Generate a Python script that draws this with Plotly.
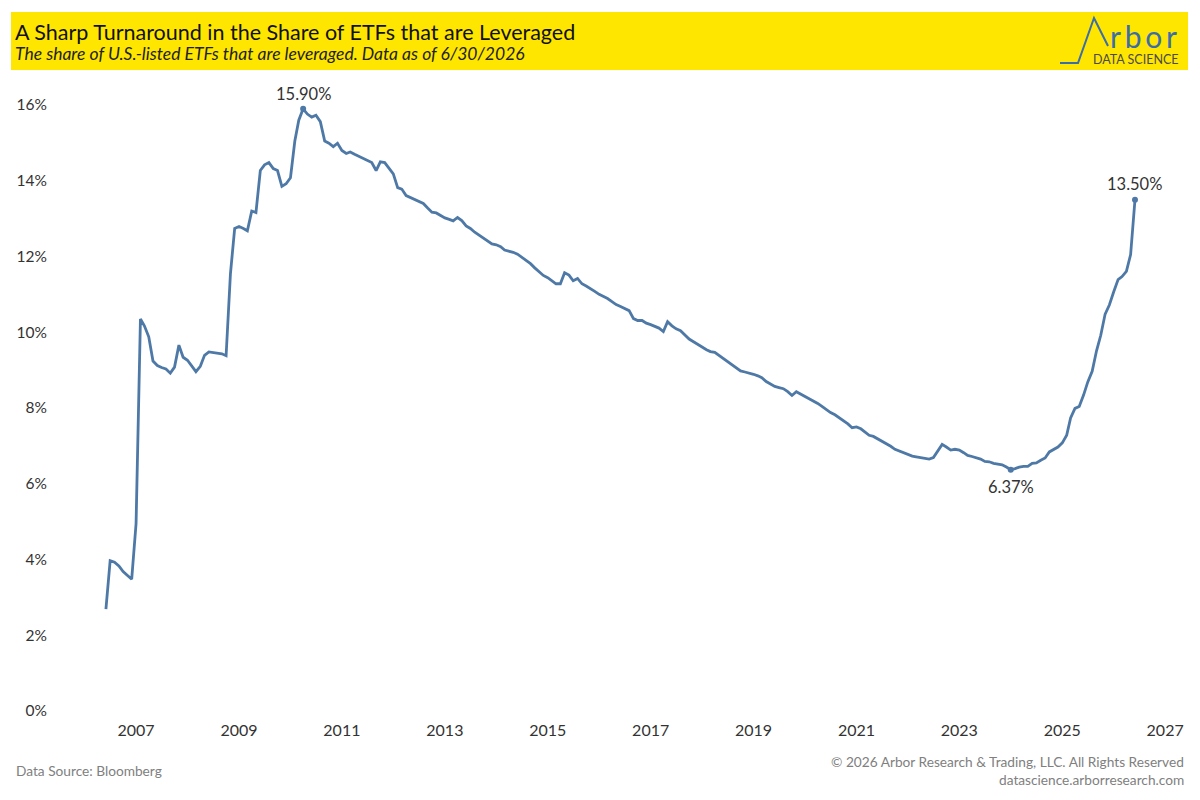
import pandas as pd
import plotly.graph_objects as go

TITLE = "A Sharp Turnaround in the Share of ETFs that are Leveraged"
SUBTITLE = "The share of U.S.-listed ETFs that are leveraged. Data as of 6/30/2026"
SOURCE = "Data Source: Bloomberg"
COPYRIGHT = "© 2026 Arbor Research & Trading, LLC. All Rights Reserved"
SITE = "datascience.arborresearch.com"

FIRST_MONTH = "2006-06-01"   # monthly series, one value per month
# share of leveraged ETFs, %
SHARE = [
    2.69, 3.97, 3.93, 3.83, 3.68, 3.57, 3.48,                                   # 2006
    4.95, 10.35, 10.17, 9.88, 9.24, 9.12, 9.07, 9.03, 8.92, 9.08, 9.66, 9.34,   # 2007
    9.26, 9.11, 8.96, 9.10, 9.39, 9.48, 9.47, 9.46, 9.43, 9.38, 11.55, 12.74,   # 2008
    12.79, 12.74, 12.68, 13.20, 13.16, 14.27, 14.42, 14.48, 14.32, 14.27, 13.85, 13.92,  # 2009
    14.08, 15.05, 15.60, 15.90, 15.76, 15.68, 15.73, 15.56, 15.05, 14.99, 14.90, 14.99,  # 2010
    14.80, 14.72, 14.76, 14.70, 14.65, 14.59, 14.53, 14.48, 14.27, 14.50, 14.48, 14.32,  # 2011
    14.18, 13.82, 13.78, 13.61, 13.56, 13.52, 13.47, 13.40, 13.28, 13.17, 13.15, 13.08,  # 2012
    13.02, 12.98, 12.94, 13.03, 12.95, 12.81, 12.74, 12.64, 12.56, 12.49, 12.41, 12.33,  # 2013
    12.31, 12.26, 12.17, 12.14, 12.11, 12.06, 11.98, 11.91, 11.81, 11.70, 11.59, 11.50,  # 2014
    11.44, 11.36, 11.28, 11.28, 11.57, 11.51, 11.36, 11.42, 11.28, 11.22, 11.16, 11.08,  # 2015
    11.00, 10.95, 10.89, 10.81, 10.73, 10.68, 10.62, 10.57, 10.36, 10.31, 10.31, 10.24,  # 2016
    10.20, 10.16, 10.11, 10.02, 10.28, 10.17, 10.09, 10.04, 9.92, 9.82, 9.75, 9.69,      # 2017
    9.61, 9.54, 9.49, 9.47, 9.39, 9.31, 9.23, 9.15, 9.07, 8.98, 8.95, 8.93,             # 2018
    8.89, 8.85, 8.80, 8.70, 8.63, 8.57, 8.54, 8.51, 8.43, 8.33, 8.43, 8.37,             # 2019
    8.30, 8.25, 8.20, 8.12, 8.04, 7.95, 7.88, 7.82, 7.74, 7.64, 7.58, 7.48,             # 2020
    7.50, 7.45, 7.36, 7.28, 7.25, 7.19, 7.12, 7.06, 6.99, 6.91, 6.86, 6.81,             # 2021
    6.77, 6.73, 6.71, 6.69, 6.66, 6.65, 6.69, 6.87, 7.04, 6.97, 6.89, 6.91,             # 2022
    6.89, 6.82, 6.75, 6.72, 6.69, 6.65, 6.59, 6.58, 6.54, 6.52, 6.50, 6.44,             # 2023
    6.37, 6.40, 6.44, 6.46, 6.46, 6.54, 6.55, 6.62, 6.68, 6.84, 6.91, 6.97,             # 2024
    7.08, 7.28, 7.74, 7.99, 8.04, 8.34, 8.69, 8.97, 9.51, 9.92, 10.48, 10.72,           # 2025
    11.07, 11.39, 11.47, 11.61, 12.05, 13.50,                                           # 2026
]
Y_TICKS = [0, 2, 4, 6, 8, 10, 12, 14, 16]

LINE_BLUE = "#4e79a7"
YELLOW = "#ffe600"
FONT = "Lato, sans-serif"

W, H = 1200, 800
ML, MR, MT, MB = 60, 15, 85, 89
PW, PH = W - ML - MR, H - MT - MB


def px(x):
    return (x - ML) / PW


def py(y):
    return (H - MB - y) / PH


dates = pd.date_range(FIRST_MONTH, periods=len(SHARE), freq="MS")
s = pd.Series(SHARE, index=dates)

fig = go.Figure()
fig.add_trace(go.Scatter(
    x=s.index, y=s.values, mode="lines",
    line=dict(color=LINE_BLUE, width=2.8),
    hoverinfo="x+y", showlegend=False,
))

# highlighted points: peak, trough after the peak, latest
i_peak = s.idxmax()
i_low = s[i_peak:].idxmin()
i_last = s.index[-1]
marks = [(i_peak, "top", 3), (i_low, "bottom", -5), (i_last, "top", 4)]
fig.add_trace(go.Scatter(
    x=[m[0] for m in marks], y=[s[m[0]] for m in marks], mode="markers",
    marker=dict(color=LINE_BLUE, size=6), hoverinfo="skip", showlegend=False,
))
for d, pos, shift in marks:
    fig.add_annotation(
        x=d, y=s[d], xref="x", yref="y", text=f"{s[d]:.2f}%",
        showarrow=False, yshift=shift, yanchor="bottom" if pos == "top" else "top",
        font=dict(family=FONT, size=16.5, color="#333333"),
    )

# header band + texts
fig.add_shape(type="rect", xref="paper", yref="paper", layer="below",
              x0=px(11), x1=px(1188), y0=py(70), y1=py(12),
              fillcolor=YELLOW, line_width=0)
fig.add_annotation(xref="paper", yref="paper", x=px(13), y=py(32), text=TITLE,
                   showarrow=False, xanchor="left", yanchor="middle",
                   font=dict(family=FONT, size=21.5, color="#111111"))
fig.add_annotation(xref="paper", yref="paper", x=px(13), y=py(54),
                   text=f"<i>{SUBTITLE}</i>",
                   showarrow=False, xanchor="left", yanchor="middle",
                   font=dict(family=FONT, size=17.5, color="#222222"))

# Arbor logo
logo = [(1060, 63), (1078, 63), (1094, 18), (1108, 46)]
path = "M " + " L ".join(f"{px(a):.5f},{py(b):.5f}" for a, b in logo)
fig.add_shape(type="path", xref="paper", yref="paper", path=path,
              line=dict(color="#3b6ea8", width=2))
fig.add_annotation(xref="paper", yref="paper", x=px(1108), y=py(36),
                   text="r\u2009b\u2009o\u2009r",
                   showarrow=False, xanchor="left", yanchor="middle",
                   font=dict(family=FONT, size=30, color="#3b6ea8"))
fig.add_annotation(xref="paper", yref="paper", x=px(1181), y=py(60), text="DATA SCIENCE",
                   showarrow=False, xanchor="right", yanchor="middle",
                   font=dict(family=FONT, size=12.5, color="#4a4a4a"))

# footer
foot = dict(family=FONT, size=13.7, color="#808080")
fig.add_annotation(xref="paper", yref="paper", x=px(14), y=py(770), text=SOURCE,
                   showarrow=False, xanchor="left", yanchor="middle", font=foot)
fig.add_annotation(xref="paper", yref="paper", x=px(1186), y=py(761), text=COPYRIGHT,
                   showarrow=False, xanchor="right", yanchor="middle", font=foot)
fig.add_annotation(xref="paper", yref="paper", x=px(1186), y=py(779), text=SITE,
                   showarrow=False, xanchor="right", yanchor="middle", font=foot)

fig.update_xaxes(
    range=["2005-07-10", "2027-05-22"], tick0="2007-01-01", dtick="M24",
    tickformat="%Y", showgrid=False, zeroline=False, showline=False,
    ticks="", ticklabelstandoff=8,
    tickfont=dict(family=FONT, size=16, color="#333333"),
)
fig.update_yaxes(
    range=[0, 16.528], tickvals=Y_TICKS, ticktext=[f"{v}%" for v in Y_TICKS],
    showgrid=False, zeroline=False, showline=False, ticks="",
    ticklabelstandoff=12,
    tickfont=dict(family=FONT, size=15.5, color="#333333"),
)
fig.update_layout(
    width=W, height=H, margin=dict(l=ML, r=MR, t=MT, b=MB),
    paper_bgcolor="white", plot_bgcolor="white",
)

fig.write_html("out.html", config={"displayModeBar": False},
               post_script="document.body.style.margin='0';")
